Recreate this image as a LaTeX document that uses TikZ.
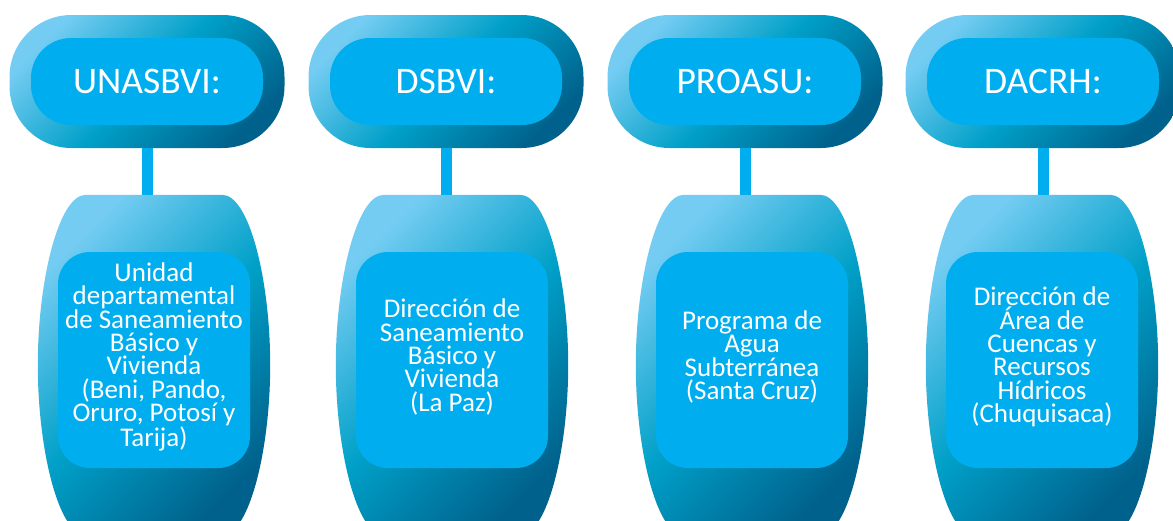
\documentclass[tikz,border=0pt]{standalone}
\usepackage{fontspec}
\setmainfont{Carlito}
\usetikzlibrary{calc}
\definecolor{skylight}{HTML}{74CCF2}
\definecolor{skymid}{HTML}{00A0C8}
\definecolor{skydark}{HTML}{00628C}
\definecolor{skyfill}{HTML}{00AEEF}
\tikzset{
    gradfill/.style={top color=skylight,bottom color=skydark,middle color=skymid,shading angle=45},
    topbox/.style={gradfill,rounded corners=62pt,minimum width=275pt,minimum height=133pt},
    toplabel/.style={fill=skyfill,rounded corners=40pt,minimum width=232pt,minimum height=87pt,text=white,font=\fontsize{37.5}{42}\selectfont},
    botbox/.style={minimum width=136pt,minimum height=340pt,inner sep=0pt},
    bottext/.style={text=white,align=center,font=\fontsize{27}{23.4}\selectfont},
    link/.style={skyfill,line width=11pt}
}
\begin{document}
\begin{tikzpicture}[x=1pt,y=-1pt]
        \useasboundingbox (0,0) rectangle (1173,520);
        \clip (0,0) rectangle (1173,520);
        \foreach \tx/\bx/\short/\txt in {
            147/154/UNASBVI/{Unidad\\departamental\\de Saneamiento\\Básico y\\Vivienda\\(Beni, Pando,\\Oruro, Potosí y\\Tarija)},
            446/452/DSBVI/{Dirección de\\Saneamiento\\Básico y\\Vivienda\\(La Paz)},
            745/752/PROASU/{Programa de\\Agua\\Subterránea\\(Santa Cruz)},
            1043/1042/DACRH/{Dirección de\\Área de\\Cuencas y\\Recursos\\Hídricos\\(Chuquisaca)}} {
            \node[topbox] (top\short) at (\tx,81.5) {};
            \node[toplabel] (lab\short) at (top\short) {\short:};
            \node[botbox] (bot\short) at (\bx,365) {};
            \shade[gradfill] (bot\short.north west) -- (bot\short.north east)
                .. controls +(27,0) and +(0,-85) .. ($(bot\short.east)+(48,0)$)
                .. controls +(0,85) and +(27,0) .. (bot\short.south east) -- (bot\short.south west)
                .. controls +(-27,0) and +(0,85) .. ($(bot\short.west)+(-48,0)$)
                .. controls +(0,-85) and +(-27,0) .. (bot\short.north west) -- cycle;
            \fill[skyfill,rounded corners=32pt] ($(\bx,360)+(-96,-108)$) rectangle ($(\bx,360)+(96,108)$);
            \node[bottext] (txt\short) at (\bx,357) {\txt};
            \draw[link] (top\short.south) -- (top\short.south |- bot\short.north);
        }
    \end{tikzpicture}
\end{document}
